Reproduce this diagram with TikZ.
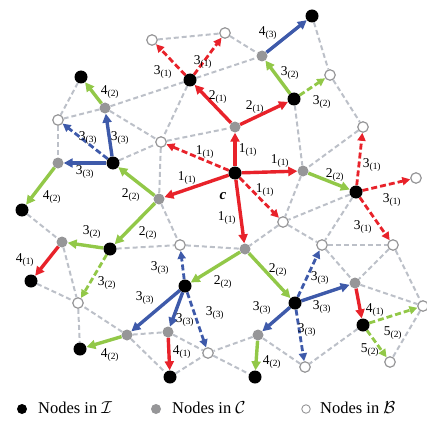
\documentclass[tikz,border=0pt]{standalone}
\usepackage{fontspec}
\setmainfont{Liberation Serif}
\usetikzlibrary{arrows.meta,backgrounds}
\definecolor{stepred}{RGB}{232,34,42}
\definecolor{stepgreen}{RGB}{146,200,72}
\definecolor{stepblue}{RGB}{62,90,170}
\definecolor{nodegray}{RGB}{150,150,152}
\definecolor{linkgray}{RGB}{188,192,200}
\newcommand{\stp}[2]{#1\textsubscript{(#2)}}
\tikzset{
  nI/.style={circle, fill=black, minimum size=13pt, inner sep=0pt},
  nC/.style={circle, fill=nodegray, minimum size=11pt, inner sep=0pt},
  nB/.style={circle, draw=nodegray, fill=white, line width=1.2pt, minimum size=10.5pt, inner sep=0pt},
  link/.style={linkgray, line width=2pt, dash pattern=on 5pt off 3pt},
  tree/.style={line width=3.4pt, -{Triangle[length=9pt,width=9pt]}},
  probe/.style={line width=2.8pt, dash pattern=on 6pt off 3pt, -{Triangle[length=8pt,width=8pt]}},
  lab/.style={font=\fontsize{13.5}{14}\selectfont, inner sep=0pt},
  legtext/.style={font=\fontsize{16.5}{18}\selectfont, inner sep=0pt, anchor=west},
}
\begin{document}
\begin{tikzpicture}[x=1pt,y=-1pt]
  \useasboundingbox (0,0) rectangle (427,433);
  \clip (0,0) rectangle (427,433);

  % nodes in I
  \foreach \n/\x/\y in {c/235/173, i1/190/80, i2/312/16, i3/294/99, i4/81/77, i5/113/163,
      i6/22/210, i7/110/249, i8/31/281, i9/185/286, i10/80/349, i11/170/377,
      i12/356/192, i13/295/303, i14/363/325, i15/255/377}
    \node[nI] (\n) at (\x,\y) {};
  % nodes in C
  \foreach \n/\x/\y in {g1/235/127, g2/303/171, g3/159/199, g4/245/249, g5/262/56, g6/105/108,
      g7/58/163, g8/62/242, g9/127/335, g10/168/332, g11/258/335, g12/355/283}
    \node[nC] (\n) at (\x,\y) {};
  % nodes in B
  \foreach \n/\x/\y in {o1/152/40, o2/225/33, o3/330/75, o4/363/127, o5/416/178, o6/58/120,
      o7/161/142, o8/283/222, o9/180/245, o10/322/245, o11/393/245, o12/78/303,
      o13/208/353, o14/305/367, o15/390/362, o16/423/306}
    \node[nB] (\n) at (\x,\y) {};
  \node[font=\fontsize{15}{16}\selectfont\bfseries\itshape] (clab) at (223,196) {c};

  \begin{scope}[on background layer]
    \foreach \a/\b in {o1/o2, o2/g5, i1/g5, i1/g6, i1/o7, i4/o6, o6/g6, g6/o7, o6/g7, i5/o7,
        o7/g3, o7/g1, i2/o3, o3/o4, o4/g2, i3/g2, g2/o8, i12/o8, i12/o10, o8/g4, o8/o10,
        g3/o9, o9/g4, i7/o9, o10/o11, o11/o16, o11/g12, o10/g12, g12/o16, o16/o15,
        i14/o14, o14/g11, g11/o13, o13/i15, g10/o13, i11/o13, g9/g10, g9/i11, g9/o12,
        o12/i10, i8/o12, g8/o12, i6/g8}
      \draw[link] (\a) -- (\b);

    % colour 1
    \foreach \a/\b in {c/g1, c/g2, c/g3, c/g4, g1/i1, g1/i3, g8/i8, g10/i11, g12/i14}
      \draw[tree, stepred] (\a) -- (\b);
    \foreach \a/\b in {c/o7, c/o8, i1/o1, i1/o2, i12/o4, i12/o5, i12/o11}
      \draw[probe, stepred] (\a) -- (\b);
    % colour 2
    \foreach \a/\b in {g2/i12, g3/i5, g3/i7, g4/i9, g4/i13, i3/g5, i7/g8, g6/i4, g7/i6,
        g9/i10, g11/i15}
      \draw[tree, stepgreen] (\a) -- (\b);
    \foreach \a/\b in {i3/o3, i7/o12, i14/o16, i14/o15}
      \draw[probe, stepgreen] (\a) -- (\b);
    % colour 3
    \foreach \a/\b in {g5/i2, i5/g6, i5/g7, i9/g9, i9/g10, i13/g11, i13/g12}
      \draw[tree, stepblue] (\a) -- (\b);
    \foreach \a/\b in {i5/o6, i9/o9, i9/o13, i13/o10, i13/o14}
      \draw[probe, stepblue] (\a) -- (\b);
  \end{scope}

  % step labels
  \foreach \x/\y/\s/\k [count=\i] in {248/150/1/1, 280/161/1/1, 187/178/1/1, 227/218/1/1,
      205/152/1/1, 265/190/1/1, 218/97/2/1, 255/107/2/1, 163/72/3/1, 203/62/3/1,
      372/165/3/1, 392/200/3/1, 363/227/3/1, 268/33/4/3, 290/73/3/2, 322/102/3/2,
      335/175/2/2, 131/195/2/2, 148/233/2/2, 223/282/2/2, 278/270/2/2, 110/92/4/2,
      120/138/3/3, 88/138/3/3, 85/172/3/3, 52/197/4/2, 92/232/3/2, 25/260/4/1,
      107/283/3/2, 160/268/3/3, 145/298/3/3, 185/320/3/3, 215/313/3/3, 110/355/4/2,
      182/352/4/1, 320/278/3/3, 322/307/3/3, 262/308/3/3, 307/330/3/3, 272/362/4/2,
      375/310/4/1, 393/333/5/2, 370/350/5/2}
    \node[lab] (lab\i) at (\x,\y) {\stp{\s}{\k}};

  % legend
  \node[circle, fill=black, minimum size=10pt, inner sep=0pt] (legI) at (22,409) {};
  \node[legtext] (legIt) at (38,408) {Nodes in $\mathcal{I}$};
  \node[circle, fill=nodegray, minimum size=10pt, inner sep=0pt] (legC) at (156,409) {};
  \node[legtext] (legCt) at (172,408) {Nodes in $\mathcal{C}$};
  \node[circle, draw=nodegray, fill=white, line width=0.9pt, minimum size=8.5pt, inner sep=0pt] (legB) at (306,409) {};
  \node[legtext] (legBt) at (320,408) {Nodes in $\mathcal{B}$};
\end{tikzpicture}
\end{document}
